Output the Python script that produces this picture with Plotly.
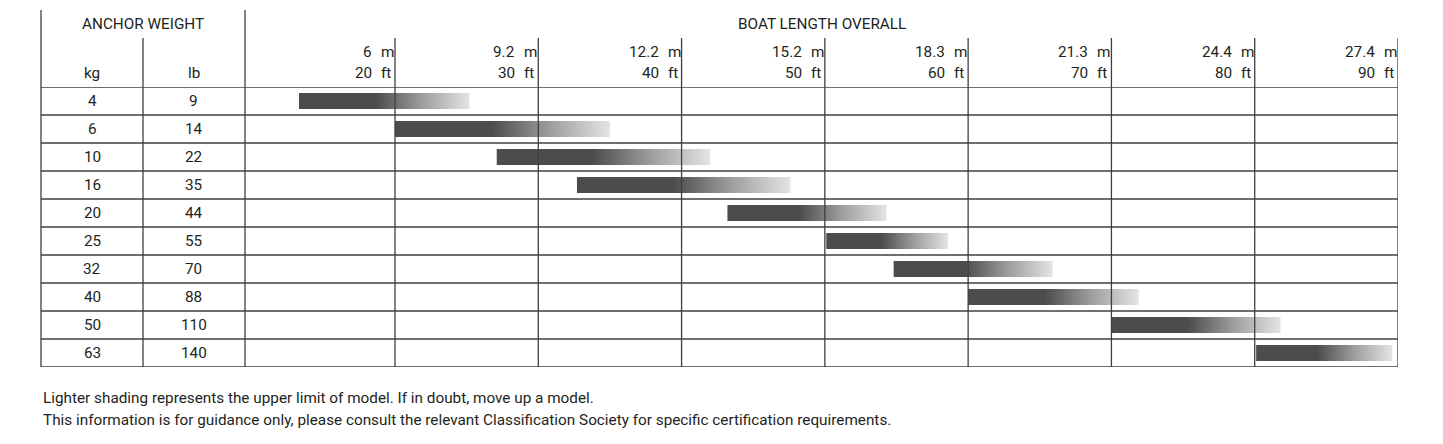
import plotly.graph_objects as go

# ---- data ----
kg = [4, 6, 10, 16, 20, 25, 32, 40, 50, 63]
lb = [9, 14, 22, 35, 44, 55, 70, 88, 110, 140]
len_start_ft = [13.3, 20.0, 27.1, 32.7, 43.2, 50.1, 54.8, 60.0, 70.0, 80.1]
len_end_ft = [25.2, 35.0, 42.0, 47.6, 54.3, 58.6, 65.9, 71.9, 81.8, 89.6]
tick_ft = [20, 30, 40, 50, 60, 70, 80, 90]
tick_m = ["6", "9.2", "12.2", "15.2", "18.3", "21.3", "24.4", "27.4"]
notes = [
    "Lighter shading represents the upper limit of model. If in doubt, move up a model.",
    "This information is for guidance only, please consult the relevant Classification Society for specific certification requirements.",
]

# ---- layout constants (pixels) ----
W, H = 1443, 444
FONT = "Roboto"
FS = 15.3
TXT = "#231f20"
LINE = "#3f3f3f"
LW = 1.3
X_LEFT, X_MID, X_CHART, X_RIGHT = 41, 143, 245, 1398
Y_TOP, Y_SUB, Y_HEAD, Y_BOT = 10, 38, 87, 367
FT_MIN = 20 - (395 - X_CHART) / ((X_RIGHT - 395) / 70.0)


def px(x):
    return x / W


def py(y):
    return 1 - y / H


n = len(kg)
fig = go.Figure()

grad = [[0, "#4b4c4e"], [0.45, "#4b4c4e"], [0.72, "#9c9d9f"], [1, "#e3e4e5"]]
half = 0.29
for i in range(n):
    s, e = len_start_ft[i], len_end_ft[i]
    fig.add_trace(go.Scatter(
        x=[s, e, e, s, s],
        y=[i - half, i - half, i + half, i + half, i - half],
        mode="lines", line=dict(width=0), fill="toself",
        fillgradient=dict(type="horizontal", colorscale=grad),
        hoverinfo="skip", showlegend=False,
    ))

shapes = []
for i in range(n + 1):
    shapes.append(dict(type="line", xref="paper", yref="y",
                       x0=px(X_LEFT), x1=px(X_RIGHT), y0=i - 0.5, y1=i - 0.5,
                       line=dict(color=LINE, width=LW)))
for xv, yt in [(X_LEFT, Y_TOP), (X_CHART, Y_TOP), (X_MID, Y_SUB)]:
    shapes.append(dict(type="line", xref="paper", yref="paper",
                       x0=px(xv), x1=px(xv), y0=py(Y_BOT), y1=py(yt),
                       line=dict(color=LINE, width=LW)))
for t in tick_ft:
    shapes.append(dict(type="line", xref="x", yref="paper",
                       x0=t, x1=t, y0=py(Y_BOT), y1=py(Y_SUB),
                       line=dict(color=LINE, width=LW)))

ann = []
f = dict(family=FONT, size=FS, color=TXT)
C = dict(showarrow=False, font=f, xanchor="center", yanchor="middle")


def add(text, x, y, xref="paper", yref="paper", **kw):
    d = dict(C)
    d.update(kw)
    ann.append(dict(text=text, x=x, y=y, xref=xref, yref=yref, **d))


add("ANCHOR WEIGHT", px((X_LEFT + X_CHART) / 2), py(24))
add("BOAT LENGTH OVERALL", px((X_CHART + X_RIGHT) / 2), py(24))
add("kg", px((X_LEFT + X_MID) / 2), py(73))
add("lb", px((X_MID + X_CHART) / 2), py(73))
for i in range(n):
    add(str(kg[i]), px((X_LEFT + X_MID) / 2), i, yref="y")
    add(str(lb[i]), px((X_MID + X_CHART) / 2), i, yref="y")
for t, m in zip(tick_ft, tick_m):
    for txt, unit, yy in [(m, "m", 52), (str(t), "ft", 73)]:
        add(txt, t, py(yy), xref="x", xanchor="right", xshift=-21)
        add(unit, t, py(yy), xref="x", xanchor="left", xshift=-16)
for k, note in enumerate(notes):
    add(note, px(X_LEFT), py(398 + 22 * k), xanchor="left")

fig.update_layout(
    width=W, height=H,
    margin=dict(l=0, r=0, t=0, b=0),
    paper_bgcolor="white", plot_bgcolor="white",
    xaxis=dict(domain=[px(X_CHART), px(X_RIGHT)], range=[FT_MIN, 90],
               showgrid=False, zeroline=False, showticklabels=False, ticks=""),
    yaxis=dict(domain=[py(Y_BOT), py(Y_HEAD)], range=[n - 0.5, -0.5],
               showgrid=False, zeroline=False, showticklabels=False, ticks=""),
    shapes=shapes, annotations=ann,
)

fig.write_html("out.html", config={"displayModeBar": False},
               post_script="document.body.style.margin='0';")
